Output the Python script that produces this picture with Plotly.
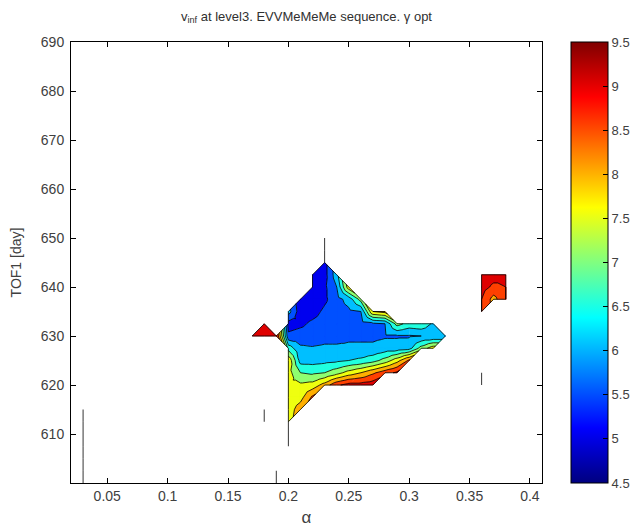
import numpy as np
import plotly.graph_objects as go

_ = None
# grid of alpha (columns) and TOF1 (rows)
alpha = [0.17, 0.18, 0.19, 0.20, 0.21, 0.22, 0.23, 0.24, 0.25, 0.26, 0.27,
         0.28, 0.29, 0.30, 0.31, 0.32, 0.33, 0.34, 0.35, 0.36, 0.37, 0.38]
tof1 = [600, 602.5, 605, 607.5, 610, 612.5, 615, 617.5, 620, 622.5, 625,
        627.5, 630, 632.5, 635, 637.5, 640, 642.5, 645, 647.5, 650]

# v_inf values (None = no solution)
vinf = [
    [_, _, 7.0, _, _, _, _, _, _, _, _, _, _, _, _, _, _, _, _, _, _, _],          # 600
    [_, _, 7.0, _, _, _, _, _, _, _, _, _, _, _, _, _, _, _, _, _, _, _],          # 602.5
    [_, _, _, _, _, _, _, _, _, _, _, _, _, _, _, _, _, _, _, _, _, _],            # 605
    [_, _, _, 7.8, _, _, _, _, _, _, _, _, _, _, _, _, _, _, _, _, _, _],          # 607.5
    [_, _, _, 7.8, _, _, _, _, _, _, _, _, _, _, _, _, _, _, _, _, _, _],          # 610
    [_, 7.0, _, 7.8, _, _, _, _, _, _, _, _, _, _, _, _, _, _, _, _, _, _],        # 612.5
    [_, 7.0, _, 7.7, 8.3, _, _, _, _, _, _, _, _, _, _, _, _, _, _, _, _, _],      # 615
    [_, _, _, 7.6, 7.8, 8.6, _, _, _, _, _, _, _, _, _, _, _, _, _, _, _, _],      # 617.5
    [_, _, _, 7.6, 7.6, 7.7, 8.2, 8.9, 9.2, 9.2, 9.3, _, _, _, _, _, _, _, _, 7.0, _, _],        # 620
    [_, _, _, 7.7, 7.0, 6.9, 7.0, 7.3, 7.7, 8.0, 8.4, 8.8, 9.1, _, _, _, _, _, _, 7.0, _, _],    # 622.5
    [_, _, _, 7.9, 6.3, 6.3, 6.35, 6.4, 6.5, 6.6, 6.8, 7.2, 7.8, 8.6, _, _, _, _, _, _, _, _],  # 625
    [_, _, _, 6.8, 6.1, 6.05, 6.1, 6.1, 6.1, 6.1, 6.1, 6.2, 6.2, 6.3, 7.2, 7.8, _, _, _, _, _, _],  # 627.5
    [9.3, 9.4, 9.1, 5.6, 5.7, 5.7, 5.8, 5.8, 5.9, 5.9, 5.9, 5.95, 5.95, 5.95, 6.0, 6.0, 6.0, _, _, _, _, _],  # 630
    [_, 9.2, _, 5.3, 5.4, 5.6, 5.7, 5.8, 5.8, 5.8, 5.9, 6.0, 7.2, 6.8, 6.9, 6.4, _, _, _, _, _, _],  # 632.5
    [_, _, _, 6.2, 5.2, 5.3, 5.6, 5.8, 5.9, 6.0, 8.0, 8.2, _, _, _, _, _, _, _, 9.0, _, _],      # 635
    [_, _, _, _, 5.1, 5.1, 5.4, 5.8, 6.2, 7.2, _, _, _, _, _, _, _, _, _, 9.0, 8.3, 9.0],        # 637.5
    [_, _, _, _, _, 5.1, 5.4, 6.0, 7.8, _, _, _, _, _, _, _, _, _, _, 9.2, 8.9, 9.0],            # 640
    [_, _, _, _, _, 5.2, 5.3, 6.3, _, _, _, _, _, _, _, _, _, _, _, 9.3, 9.2, 9.1],             # 642.5
    [_, _, _, _, _, _, 5.3, _, _, _, _, _, _, _, _, _, _, _, _, _, _, _],                        # 645
    [_, _, _, _, _, _, 5.3, _, _, _, _, _, _, _, _, _, _, _, _, _, _, _],                        # 647.5
    [_, _, _, _, _, _, 5.3, _, _, _, _, _, _, _, _, _, _, _, _, _, _, _],                        # 650
]

# an isolated column of solutions at alpha = 0.03
iso_alpha = 0.03
iso_tof = [600, 602.5, 605, 607.5, 610, 612.5, 615]

levels = [4.5, 5.0, 5.5, 6.0, 6.5, 7.0, 7.5, 8.0, 8.5, 9.0, 9.5]
cmin, cmax = 4.5, 9.5


def jet(f):
    r = min(max(min(4 * f - 1.5, -4 * f + 4.5), 0), 1)
    g = min(max(min(4 * f - 0.5, -4 * f + 3.5), 0), 1)
    b = min(max(min(4 * f + 0.5, -4 * f + 2.5), 0), 1)
    return r, g, b


def level_color(L):
    idx = int((L - cmin) / (cmax - cmin) * 64) + 1
    idx = min(max(idx, 1), 64)
    r, g, b = jet(idx / 64.0)
    return f"rgb({round(r*255)},{round(g*255)},{round(b*255)})"


jet_scale = []
for k in range(65):
    f = k / 64
    r, g, b = jet(f)
    jet_scale.append([f, f"rgb({round(r*255)},{round(g*255)},{round(b*255)})"])

A = np.array(alpha, float)
T = np.array(tof1, float)
Z = np.array([[np.nan if v is None else v for v in row] for row in vinf], float)
valid = ~np.isnan(Z)
ny, nx = Z.shape

tris = []
edge_count = {}


def add_edge(p, q):
    key = tuple(sorted([p, q]))
    edge_count[key] = edge_count.get(key, 0) + 1


def pt(c):
    return (A[c[1]], T[c[0]], Z[c])


for i in range(ny - 1):
    for j in range(nx - 1):
        corners = [(i, j), (i, j + 1), (i + 1, j + 1), (i + 1, j)]
        ok = [valid[c] for c in corners]
        n = sum(ok)
        if n == 4:
            pts = [pt(c) for c in corners]
            ctr = (np.mean([p[0] for p in pts]), np.mean([p[1] for p in pts]),
                   np.mean([p[2] for p in pts]))
            for k in range(4):
                tris.append([pts[k], pts[(k + 1) % 4], ctr])
                add_edge(corners[k], corners[(k + 1) % 4])
        elif n == 3:
            vc = [c for c, o in zip(corners, ok) if o]
            tris.append([pt(c) for c in vc])
            for k in range(3):
                add_edge(vc[k], vc[(k + 1) % 3])


def clip(poly, level, above):
    out = []
    n = len(poly)
    for k in range(n):
        p = poly[k]
        q = poly[(k + 1) % n]
        pin = p[2] >= level if above else p[2] <= level
        qin = q[2] >= level if above else q[2] <= level
        if pin:
            out.append(p)
        if pin != qin:
            t = (level - p[2]) / (q[2] - p[2])
            out.append((p[0] + t * (q[0] - p[0]), p[1] + t * (q[1] - p[1]), level))
    return out


fig = go.Figure()

# filled bands
nb = len(levels) - 1
for b in range(nb):
    lo = levels[b] if b > 0 else -1e9
    hi = levels[b + 1] if b < nb - 1 else 1e9
    xs, ys = [], []
    for tri in tris:
        poly = clip(tri, lo, True)
        if len(poly) >= 3:
            poly = clip(poly, hi, False)
        if len(poly) >= 3:
            xs += [p[0] for p in poly] + [None]
            ys += [p[1] for p in poly] + [None]
    if xs:
        col = level_color(levels[b])
        fig.add_trace(go.Scatter(x=xs, y=ys, mode="lines", fill="toself",
                                 fillcolor=col, line=dict(color=col, width=0.6),
                                 hoverinfo="skip", showlegend=False))

# contour lines
lx, ly = [], []
for L in levels[1:-1]:
    for tri in tris:
        seg = []
        for k in range(3):
            p = tri[k]
            q = tri[(k + 1) % 3]
            if (p[2] >= L) != (q[2] >= L):
                t = (L - p[2]) / (q[2] - p[2])
                seg.append((p[0] + t * (q[0] - p[0]), p[1] + t * (q[1] - p[1])))
        if len(seg) == 2:
            lx += [seg[0][0], seg[1][0], None]
            ly += [seg[0][1], seg[1][1], None]

# boundary edges and isolated segments
for key, cnt in edge_count.items():
    if cnt == 1:
        (i1, j1), (i2, j2) = key
        lx += [A[j1], A[j2], None]
        ly += [T[i1], T[i2], None]
for i in range(ny):
    for j in range(nx):
        if not valid[i, j]:
            continue
        for (di, dj) in [(1, 0), (0, 1)]:
            i2, j2 = i + di, j + dj
            if i2 < ny and j2 < nx and valid[i2, j2]:
                key = tuple(sorted([(i, j), (i2, j2)]))
                if key not in edge_count:
                    lx += [A[j], A[j2], None]
                    ly += [T[i], T[i2], None]
for k in range(len(iso_tof) - 1):
    lx += [iso_alpha, iso_alpha, None]
    ly += [iso_tof[k], iso_tof[k + 1], None]

fig.add_trace(go.Scatter(x=lx, y=ly, mode="lines",
                         line=dict(color="black", width=0.8),
                         hoverinfo="skip", showlegend=False))

# colorbar
fig.add_trace(go.Scatter(
    x=[None], y=[None], mode="markers", showlegend=False, hoverinfo="skip",
    marker=dict(color=[cmin], cmin=cmin, cmax=cmax, colorscale=jet_scale,
                showscale=True,
                colorbar=dict(x=1.0616, xanchor="left", xpad=0, ypad=0,
                              y=0.5, yanchor="middle", len=1, lenmode="fraction",
                              thickness=37, outlinewidth=1, outlinecolor="black",
                              tick0=4.5, dtick=0.5, ticks="inside", ticklen=5,
                              tickcolor="black",
                              tickfont=dict(size=13, color="#404040")))))

# the page body adds an 8 px offset; the figure is sized so it fills the window
fig.update_layout(
    width=630, height=521,
    margin=dict(l=63, r=96, t=34, b=46, autoexpand=False),
    plot_bgcolor="white", paper_bgcolor="white",
    font=dict(family="Liberation Sans, Arial, sans-serif", size=14, color="#404040"),
    title=dict(text="v<sub>inf</sub> at level3. EVVMeMeMe sequence. γ opt",
               x=0.5, xref="paper", xanchor="center",
               y=1 - 8 / 521, yref="container", yanchor="middle",
               font=dict(size=13, color="#303030")),
    xaxis=dict(range=[0.02, 0.41], tickvals=[0.05, 0.1, 0.15, 0.2, 0.25, 0.3, 0.35, 0.4],
               ticktext=["0.05", "0.1", "0.15", "0.2", "0.25", "0.3", "0.35", "0.4"],
               ticks="inside", ticklen=5, tickcolor="black", mirror="ticks",
               showline=True, linecolor="black", linewidth=1,
               showgrid=False, zeroline=False,
               title=dict(text="α", standoff=8)),
    yaxis=dict(range=[600, 690], tickvals=[610, 620, 630, 640, 650, 660, 670, 680, 690],
               ticks="inside", ticklen=5, tickcolor="black", mirror="ticks",
               showline=True, linecolor="black", linewidth=1,
               showgrid=False, zeroline=False, ticklabelstandoff=3,
               title=dict(text="TOF1 [day]", standoff=18, font=dict(size=14))),
)

fig.write_html("out.html")
